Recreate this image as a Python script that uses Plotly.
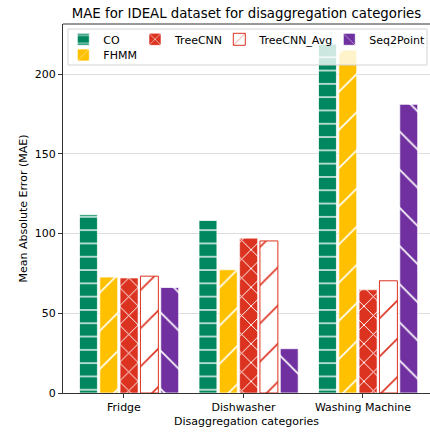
import plotly.graph_objects as go

# ---- data ----
categories = ["Fridge", "Dishwasher", "Washing Machine"]
series_names = ["CO", "FHMM", "TreeCNN", "TreeCNN_Avg", "Seq2Point"]
co_mae = [111.8, 108.2, 219.7]
fhmm_mae = [72.7, 77.3, 215.2]
treecnn_mae = [72.1, 97.1, 64.7]
treecnn_avg_mae = [73.3, 95.4, 70.4]
seq2point_mae = [66.2, 27.8, 181.1]
y_ticks = [0, 50, 100, 150, 200]

series_values = [co_mae, fhmm_mae, treecnn_mae, treecnn_avg_mae, seq2point_mae]

# ---- styles ----
W, H = 430, 432
ML, MR, MT, MB = 63, 0, 24, 39
PW, PH = W - ML - MR, H - MT - MB
FONT = "DejaVu Sans"
TXT = "#000000"

BAR_WIDTH = 0.15
BAR_PITCH = 0.17
GROUP_SHIFT = -0.372

styles = [
    dict(bg="#00875F", fg="white", shape="-", size=13.3, sol=0.1, line="rgba(255,255,255,0.75)"),
    dict(bg="#FFC000", fg="white", shape="/", size=27, sol=0.06, line="rgba(255,255,255,0.75)"),
    dict(bg="#DC3220", fg="white", shape="x", size=13.3, sol=0.14, line="rgba(255,255,255,0.55)"),
    dict(bg="white", fg="#DC3220", shape="/", size=27, sol=0.06, line="#DC3220"),
    dict(bg="#7030A0", fg="white", shape="\\", size=27, sol=0.06, line="rgba(255,255,255,0.75)"),
]

# legend placement (pixel positions of text start / row centers)
legend_pos = {
    "CO": (103.3, 39.3),
    "TreeCNN": (175.0, 39.3),
    "TreeCNN_Avg": (259.3, 39.3),
    "Seq2Point": (369.3, 39.3),
    "FHMM": (103.3, 55.0),
}


def px_to_paper_x(px):
    return (px - ML) / PW


def px_to_paper_y(py):
    return (H - MB - py) / PH


fig = go.Figure()
legend_layouts = {}
for i, (name, vals, st) in enumerate(zip(series_names, series_values, styles)):
    lg = "legend" if i == 0 else f"legend{i + 1}"
    fig.add_trace(go.Bar(
        x=categories, y=vals, name=name,
        width=BAR_WIDTH, offset=GROUP_SHIFT + i * BAR_PITCH,
        marker=dict(
            color=st["bg"],
            line=dict(color=st["line"], width=1),
            pattern=dict(shape=st["shape"], fillmode="replace", bgcolor=st["bg"],
                         fgcolor=st["fg"], size=st["size"], solidity=st["sol"]),
        ),
        legend=lg, showlegend=True,
    ))
    tx, ty = legend_pos[name]
    legend_layouts[lg] = dict(
        x=px_to_paper_x(tx - 40), y=px_to_paper_y(ty), xanchor="left", yanchor="middle",
        xref="paper", yref="paper", orientation="h",
        bgcolor="rgba(0,0,0,0)", borderwidth=0,
        font=dict(family=FONT, size=11, color=TXT),
    )

fig.update_layout(
    width=W, height=H,
    showlegend=True,
    margin=dict(l=ML, r=MR, t=MT, b=MB, autoexpand=False),
    paper_bgcolor="white", plot_bgcolor="white",
    barmode="overlay",
    font=dict(family=FONT, size=11, color=TXT),
    title=dict(text="MAE for IDEAL dataset for disaggregation categories",
               x=0.5, xref="paper", xanchor="center",
               y=1 - 13 / H, yref="container", yanchor="middle",
               font=dict(family=FONT, size=13.3, color=TXT)),
    xaxis=dict(
        type="category", range=[-0.51, 2.561],
        showline=True, linecolor="#333333", linewidth=1,
        ticks="outside", ticklen=4, tickcolor="#333333",
        showgrid=False, zeroline=False,
        tickfont=dict(family=FONT, size=11, color=TXT),
        title=dict(text="Disaggregation categories", standoff=4,
                   font=dict(family=FONT, size=11, color=TXT)),
    ),
    yaxis=dict(
        range=[0, 231.5], tickvals=y_ticks,
        showline=True, linecolor="#333333", linewidth=1,
        ticks="outside", ticklen=4, tickcolor="#333333",
        showgrid=True, gridcolor="#dddddd", gridwidth=1.3, zeroline=False,
        tickfont=dict(family=FONT, size=11, color=TXT),
        title=dict(text="Mean Absolute Error (MAE)", standoff=4,
                   font=dict(family=FONT, size=11, color=TXT)),
    ),
    **legend_layouts,
    shapes=[
        dict(type="line", xref="paper", yref="paper", x0=0, x1=1, y0=1, y1=1,
             line=dict(color="#333333", width=1), layer="above"),
        dict(type="rect", xref="paper", yref="paper",
             x0=px_to_paper_x(68), x1=px_to_paper_x(427),
             y0=px_to_paper_y(65), y1=px_to_paper_y(29),
             fillcolor="rgba(255,255,255,0.8)", line=dict(color="#d4d4d4", width=1),
             layer="above"),
    ],
)

fig.write_html(
    "out.html",
    config={"displayModeBar": False},
    post_script="document.body.style.margin='0';document.body.style.padding='0';"
                "document.body.style.overflow='hidden';",
)
